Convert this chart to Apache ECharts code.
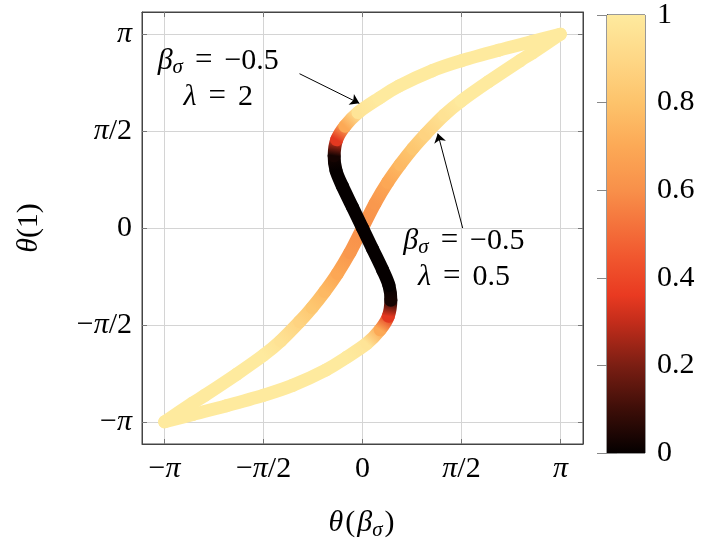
<!DOCTYPE html>
<html>
<head>
<meta charset="utf-8">
<script src="https://cdn.jsdelivr.net/npm/echarts@6/dist/echarts.min.js"></script>
<style>
  html, body { margin: 0; padding: 0; background: #fff; }
  #container { width: 701px; height: 546px; }
</style>
</head>
<body>
<div id="container"></div>
<script>
// tick positions and labels (multiples of pi/2)
var thetaTicks = [-Math.PI, -Math.PI / 2, 0, Math.PI / 2, Math.PI];
var tickLabels = ['{n|−}{i|π}', '{n|−}{i|π}{n|/2}', '{n|0}', '{i|π}{n|/2}', '{i|π}'];

// beta_sigma = -0.5, lambda = 2
var lam2X = [-3.14, -2.69, -2.16, -1.57, -1.11, -0.58, -0.26, 0.07, 0.28, 0.41, 0.45, 0.42, 0.32, 0.16, 0,
  -0.16, -0.32, -0.42, -0.45, -0.41, -0.28, -0.07, 0.26, 0.58, 1.11, 1.57, 2.16, 2.69, 3.14];
var lam2Y = [-3.14, -3.02, -2.88, -2.71, -2.55, -2.30, -2.10, -1.87, -1.65, -1.43, -1.17, -0.93, -0.68, -0.34, 0,
  0.34, 0.68, 0.93, 1.17, 1.43, 1.65, 1.87, 2.10, 2.30, 2.55, 2.71, 2.88, 3.02, 3.14];
var lam2C = [1, 1, 1, 1, 1, 1, 1, 0.97, 0.7, 0.35, 0.03, 0, 0, 0, 0,
  0, 0, 0, 0.03, 0.35, 0.7, 0.97, 1, 1, 1, 1, 1, 1, 1];

// beta_sigma = -0.5, lambda = 0.5
var lam05X = [-3.14, -2.70, -2.50, -2.00, -1.57, -1.30, -1.00, -0.80, -0.60, -0.40, -0.20, 0,
  0.20, 0.40, 0.60, 0.80, 1.00, 1.30, 1.57, 2.00, 2.50, 2.70, 3.14];
var lam05Y = [-3.14, -2.84, -2.71, -2.37, -2.06, -1.83, -1.52, -1.29, -1.03, -0.74, -0.40, 0,
  0.40, 0.74, 1.03, 1.29, 1.52, 1.83, 2.06, 2.37, 2.71, 2.84, 3.14];
var lam05C = [1, 1, 1, 1, 1, 0.96, 0.88, 0.82, 0.76, 0.69, 0.63, 0.6,
  0.63, 0.69, 0.76, 0.82, 0.88, 0.96, 1, 1, 1, 1, 1];

// colormap
var cmapStops = [
  [0, '#050000'], [0.1, '#3d0e08'], [0.2, '#7b1e13'], [0.3, '#c42d1b'], [0.36, '#e93a21'],
  [0.45, '#f1582f'], [0.6, '#f8904a'], [0.7, '#fca956'], [0.8, '#fdc36b'], [0.9, '#fed786'], [1, '#feea9e']
];

function hex2rgb(h) {
  return [parseInt(h.substr(1, 2), 16), parseInt(h.substr(3, 2), 16), parseInt(h.substr(5, 2), 16)];
}
function cmap(v) {
  v = Math.max(0, Math.min(1, v));
  for (var i = 1; i < cmapStops.length; i++) {
    if (v <= cmapStops[i][0]) {
      var a = cmapStops[i - 1], b = cmapStops[i];
      var t = (v - a[0]) / (b[0] - a[0]);
      var ca = hex2rgb(a[1]), cb = hex2rgb(b[1]);
      return 'rgb(' + [0, 1, 2].map(function (k) { return Math.round(ca[k] + (cb[k] - ca[k]) * t); }).join(',') + ')';
    }
  }
  return cmapStops[cmapStops.length - 1][1];
}

// one item per segment, with the neighbours for a smooth (catmull-rom) joint
function segments(xs, ys, cs) {
  var out = [], n = xs.length;
  for (var i = 0; i < n - 1; i++) {
    var a = Math.max(i - 1, 0), d = Math.min(i + 2, n - 1);
    out.push([xs[a], ys[a], xs[i], ys[i], cs[i], xs[i + 1], ys[i + 1], cs[i + 1], xs[d], ys[d]]);
  }
  return out;
}

function renderSeg(params, api) {
  var p0 = api.coord([api.value(0), api.value(1)]);
  var p1 = api.coord([api.value(2), api.value(3)]);
  var p2 = api.coord([api.value(5), api.value(6)]);
  var p3 = api.coord([api.value(8), api.value(9)]);
  return {
    type: 'bezierCurve',
    shape: {
      x1: p1[0], y1: p1[1], x2: p2[0], y2: p2[1],
      cpx1: p1[0] + (p2[0] - p0[0]) / 6, cpy1: p1[1] + (p2[1] - p0[1]) / 6,
      cpx2: p2[0] - (p3[0] - p1[0]) / 6, cpy2: p2[1] - (p3[1] - p1[1]) / 6
    },
    style: {
      fill: null,
      stroke: new echarts.graphic.LinearGradient(p1[0], p1[1], p2[0] + 0.01, p2[1] + 0.01, [
        { offset: 0, color: cmap(api.value(4)) },
        { offset: 1, color: cmap(api.value(7)) }
      ], true),
      lineWidth: 13,
      lineCap: 'round'
    }
  };
}

function renderBar(params, api) {
  var p1 = api.coord([0, 1]);
  var p2 = api.coord([1, 0]);
  return {
    type: 'rect',
    shape: { x: p1[0], y: p1[1], width: p2[0] - p1[0], height: p2[1] - p1[1] },
    style: {
      fill: new echarts.graphic.LinearGradient(0, 1, 0, 0, cmapStops.map(function (s) {
        return { offset: s[0], color: s[1] };
      }))
    }
  };
}

var serif = 'Liberation Serif';
var FS = 30;
function tickFmt(v) {
  for (var i = 0; i < thetaTicks.length; i++) {
    if (Math.abs(thetaTicks[i] - v) < 1e-6) return tickLabels[i];
  }
  return '';
}
var mathRich = {
  i: { fontFamily: serif, fontStyle: 'italic', fontSize: FS, color: '#000', opacity: 1 },
  n: { fontFamily: serif, fontSize: FS, color: '#000', opacity: 1 },
  p: { fontFamily: serif, fontSize: FS, color: '#000', opacity: 1, padding: [0, 2, 0, 2] },
  e: { fontFamily: serif, fontSize: 31, color: '#000', opacity: 1, padding: [0, 12, 0, 12] },
  s: { fontFamily: serif, fontStyle: 'italic', fontSize: 21, color: '#000', opacity: 1, padding: [14, 0, 0, 0] }
};

function thetaAxis(pos, main) {
  return {
    type: 'value', gridIndex: 0, position: pos, min: -3.5, max: 3.5,
    axisLine: { show: true, onZero: false, lineStyle: { color: '#444', width: 1 } },
    axisTick: { show: true, inside: true, length: 5, customValues: thetaTicks, lineStyle: { color: '#777' } },
    axisLabel: {
      show: main, customValues: thetaTicks, formatter: tickFmt, margin: 10, rich: mathRich
    },
    splitLine: { show: main, lineStyle: { color: '#d4d4d4', width: 1 } }
  };
}

var xMain = thetaAxis('bottom', true);
xMain.name = '{i|θ}{p|(}{i|β}{s|σ}{p|)}';
xMain.nameLocation = 'middle';
xMain.nameGap = 62;
xMain.nameTextStyle = { rich: mathRich };
var yMain = thetaAxis('left', true);
yMain.name = '{i|θ}{n|(1)}';
yMain.nameLocation = 'middle';
yMain.nameGap = 98;
yMain.nameRotate = 90;
yMain.nameTextStyle = { rich: mathRich };

var dom = document.getElementById('container');
var myChart = echarts.init(dom);
var option = {
  animation: false,
  backgroundColor: '#fff',
  grid: [
    { left: 142, top: 12, width: 441, height: 441, show: true, borderColor: '#444', borderWidth: 1 },
    { left: 607, top: 12, width: 38, height: 441, show: true, borderColor: '#333', borderWidth: 1 }
  ],
  xAxis: [
    xMain,
    thetaAxis('top', false),
    { type: 'value', gridIndex: 1, min: 0, max: 1, show: false }
  ],
  yAxis: [
    yMain,
    thetaAxis('right', false),
    {
      type: 'value', gridIndex: 1, position: 'right', min: 0, max: 1, interval: 0.2,
      axisLine: { show: true, lineStyle: { color: '#333' } },
      axisTick: { show: true, inside: true, length: 10, lineStyle: { color: '#888' } },
      axisLabel: { margin: 12, fontFamily: serif, fontSize: FS, color: '#000' },
      splitLine: { show: false }
    },
    {
      type: 'value', gridIndex: 1, position: 'left', min: 0, max: 1, interval: 0.2,
      axisLine: { show: true, lineStyle: { color: '#333' } },
      axisTick: { show: true, inside: true, length: 10, lineStyle: { color: '#888' } },
      axisLabel: { show: false },
      splitLine: { show: false }
    }
  ],
  series: [
    {
      name: 'lambda 0.5', type: 'custom', xAxisIndex: 0, yAxisIndex: 0,
      renderItem: renderSeg, data: segments(lam05X, lam05Y, lam05C), silent: true
    },
    {
      name: 'lambda 2', type: 'custom', xAxisIndex: 0, yAxisIndex: 0,
      renderItem: renderSeg, data: segments(lam2X, lam2Y, lam2C), silent: true
    },
    {
      name: 'colorbar', type: 'custom', xAxisIndex: 2, yAxisIndex: 2,
      renderItem: renderBar, data: [[0, 0, 1, 1]], silent: true
    },
    {
      name: 'notes', type: 'scatter', xAxisIndex: 0, yAxisIndex: 0, symbolSize: 0, silent: true,
      itemStyle: { opacity: 1 },
      data: [
        { value: [-2.29, 2.42], label: { formatter: '{i|β}{s|σ}{e|=}{n|−0.5}\n{i|λ}{e|=}{n|2}' } },
        { value: [1.61, -0.5], label: { formatter: '{i|β}{s|σ}{e|=}{n|−0.5}\n{i|λ}{e|=}{n|0.5}' } }
      ],
      label: {
        show: true, position: 'inside', align: 'center', verticalAlign: 'middle', lineHeight: 36,
        color: '#000', opacity: 1, textBorderWidth: 0, rich: mathRich
      },
      markLine: {
        silent: true, symbol: ['none', 'arrow'], symbolSize: 9,
        label: { show: false },
        lineStyle: { color: '#000', width: 1, type: 'solid', opacity: 1 },
        data: [
          [{ coord: [-1.0, 2.50] }, { coord: [-0.05, 2.02] }],
          [{ coord: [1.59, 0.0] }, { coord: [1.195, 1.53] }]
        ]
      }
    }
  ]
};
myChart.setOption(option);
</script>
</body>
</html>
